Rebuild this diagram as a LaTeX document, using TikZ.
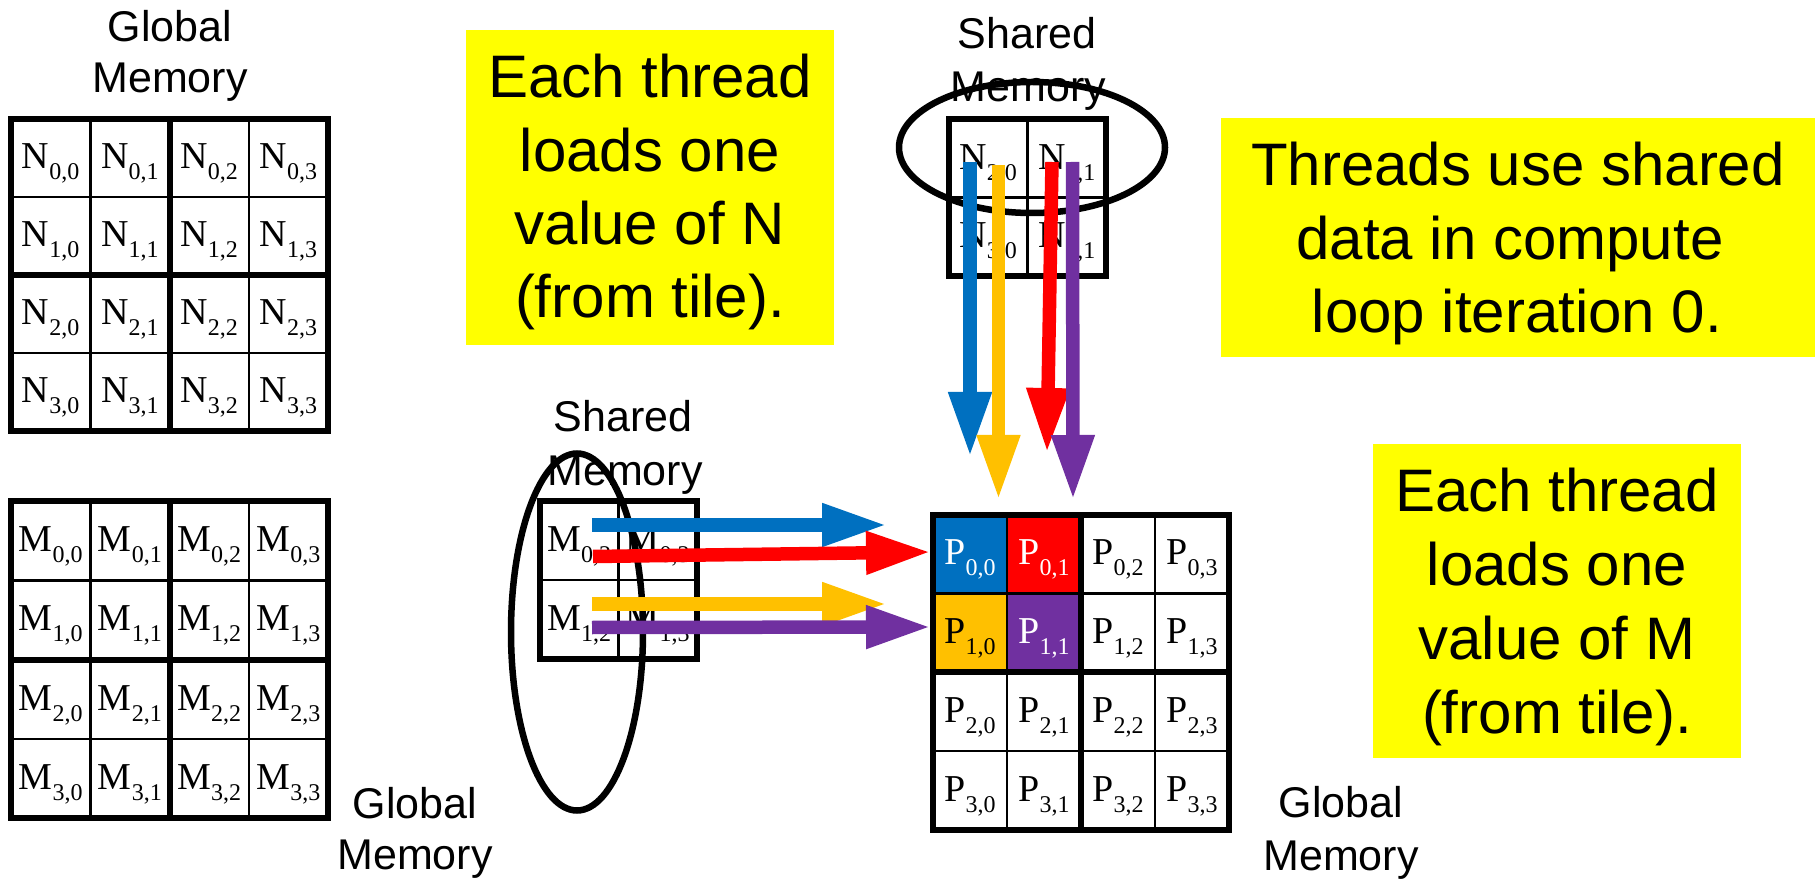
\documentclass[tikz,border=0pt]{standalone}
\usepackage{fontspec}
\setmainfont{Liberation Serif}
\newfontfamily\arialfont{Liberation Sans}
\usetikzlibrary{arrows.meta}

\definecolor{tblue}{HTML}{0070C0}
\definecolor{tred}{HTML}{FF0000}
\definecolor{tgold}{HTML}{FFC000}
\definecolor{tpurple}{HTML}{7030A0}
\definecolor{notefill}{HTML}{FFFF00}

\tikzset{
  thinrule/.style={line width=1.25pt},
  thickrule/.style={line width=3pt},
  celltext/.style={inner sep=0pt, text height=11pt, text depth=0pt, anchor=center},
  lbl/.style={font=\arialfont\fontsize{21.5}{26}\selectfont, anchor=base, inner sep=0pt},
  notetext/.style={font=\arialfont\fontsize{30}{36}\selectfont, anchor=base, inner sep=0pt},
  notebox/.style={fill=notefill, draw=none, inner sep=0pt, anchor=north west},
  ring/.style={draw=black, line width=3.25pt},
  flow/.style={line width=6.75pt, -{Triangle[width=20pt,length=32.5pt]}},
}

% matrix element: letter with a lowered "row,col" index
\newcommand{\cellval}[3]{{\fontsize{19}{19}\selectfont #1\raisebox{-5.5pt}{\fontsize{12}{12}\selectfont #2,#3}}}

\begin{document}
\begin{tikzpicture}[x=0.5pt, y=-0.5pt]
\useasboundingbox (0,0) rectangle (1817,882);

% ---------- yellow notes ----------
\node[notebox, minimum width=184pt, minimum height=157.5pt] (noteN) at (466,30) {};
\foreach \t [count=\i] in {Each thread, loads one, value of N, (from tile).}
  \node[notetext] (noteN-\i) at (650, {98+73.33*(\i-1)}) {\t};

\node[notebox, minimum width=297pt, minimum height=119.5pt] (noteP) at (1221,118) {};
\node[notetext] (noteP-1) at (1518,186) {Threads use shared};
\node[notetext] (noteP-2) at (1510,259.5) {data in compute};
\node[notetext] (noteP-3) at (1517,333) {loop iteration 0.};

\node[notebox, minimum width=184pt, minimum height=157pt] (noteM) at (1373,444) {};
\foreach \t [count=\i] in {Each thread, loads one, value of M, (from tile).}
  \node[notetext] (noteM-\i) at (1557, {511+74*(\i-1)}) {\t};

% ---------- global N ----------
\node[lbl] (gN-1) at (170,42) {Global};
\node[lbl] (gN-2) at (170,93) {Memory};
\foreach \r in {0,...,3}
  \foreach \c in {0,...,3}
    \node[celltext] (n-\r-\c) at ({11+79.25*(\c+0.5)}, {119+78*(\r+0.5)}) {\cellval{N}{\r}{\c}};
\foreach \i in {1,3} {
  \draw[thinrule] ({11+79.25*\i},119) -- ({11+79.25*\i},431);
  \draw[thinrule] (11,{119+78*\i}) -- (328,{119+78*\i});
}
\draw[thickrule] (11,119) rectangle (328,431);
\draw[thickrule] (169.5,119) -- (169.5,431) (11,275) -- (328,275);

% ---------- global M ----------
\foreach \r in {0,...,3}
  \foreach \c in {0,...,3}
    \node[celltext] (m-\r-\c) at ({11+79.25*(\c+0.5)}, {501+79.25*(\r+0.5)}) {\cellval{M}{\r}{\c}};
\foreach \i in {1,3} {
  \draw[thinrule] ({11+79.25*\i},501) -- ({11+79.25*\i},818);
  \draw[thinrule] (11,{501+79.25*\i}) -- (328,{501+79.25*\i});
}
\draw[thickrule] (11,501) rectangle (328,818);
\draw[thickrule] (169.5,501) -- (169.5,818) (11,659.5) -- (328,659.5);
\node[lbl] (gM-1) at (415,818) {Global};
\node[lbl] (gM-2) at (415,869) {Memory};

% ---------- global P ----------
\fill[tblue]   (933,514.5) rectangle (1007,593.4);
\fill[tred]    (1007,514.5) rectangle (1081,593.4);
\fill[tgold]   (933,593.4) rectangle (1007,672.3);
\fill[tpurple] (1007,593.4) rectangle (1081,672.3);
\foreach \r/\c/\col in {0/0/white,0/1/white,0/2/black,0/3/black,
                        1/0/black,1/1/white,1/2/black,1/3/black,
                        2/0/black,2/1/black,2/2/black,2/3/black,
                        3/0/black,3/1/black,3/2/black,3/3/black}
  \node[celltext, text=\col] (p-\r-\c) at ({933+74*(\c+0.5)}, {514.5+78.875*(\r+0.5)}) {\cellval{P}{\r}{\c}};
\foreach \i in {1,3} {
  \draw[thinrule] ({933+74*\i},514.5) -- ({933+74*\i},830);
  \draw[thinrule] (933,{514.5+78.875*\i}) -- (1229,{514.5+78.875*\i});
}
\draw[thickrule] (933,514.5) rectangle (1229,830);
\draw[thickrule] (1081,514.5) -- (1081,830) (933,672.25) -- (1229,672.25);
\node[lbl] (gP-1) at (1341,817) {Global};
\node[lbl] (gP-2) at (1341,870) {Memory};

% ---------- shared M tile ----------
\node[lbl] (sM-1) at (623,432) {Shared};
\node[lbl] (sM-2) at (625,486) {Memory};
\foreach \r/\rr in {0/0,1/1}
  \foreach \c/\cc in {0/2,1/3}
    \node[celltext] (sm-\r-\c) at ({540+78.5*(\c+0.5)}, {501+79*(\r+0.5)}) {\cellval{M}{\rr}{\cc}};
\draw[thinrule] (618.5,501) -- (618.5,659) (540,580) -- (697,580);
\draw[thickrule] (540,501) rectangle (697,659);
\draw[ring] (577,632) ellipse [x radius=66, y radius=178.5];

% ---------- shared N tile ----------
\node[lbl] (sN-1) at (1027,49) {Shared};
\node[lbl] (sN-2) at (1028.5,102) {Memory};
\foreach \r/\rr in {0/2,1/3}
  \foreach \c/\cc in {0/0,1/1}
    \node[celltext] (sn-\r-\c) at ({949+78.5*(\c+0.5)}, {119+78.5*(\r+0.5)}) {\cellval{N}{\rr}{\cc}};
\draw[thinrule] (1027.5,119) -- (1027.5,276) (949,197.5) -- (1106,197.5);
\draw[thickrule] (949,119) rectangle (1106,276);
\draw[ring] (1032,147.5) ellipse [x radius=133, y radius=65.5];

% ---------- data movement ----------
\coordinate (hB0) at (592,525);    \coordinate (hB1) at (887,525);
\coordinate (hR0) at (593,556.5);  \coordinate (hR1) at (931,552);
\coordinate (hG0) at (592,604);    \coordinate (hG1) at (887,604);
\coordinate (hP0) at (592,627.5);  \coordinate (hP1) at (931,627);
\coordinate (vB0) at (970,162);    \coordinate (vB1) at (970,457);
\coordinate (vG0) at (998.5,165);  \coordinate (vG1) at (998.5,500);
\coordinate (vR0) at (1052,162);   \coordinate (vR1) at (1047,453);
\coordinate (vP0) at (1072.5,162); \coordinate (vP1) at (1073,500);

\draw[flow, tblue]   (hB0) -- (hB1);
\draw[flow, tred]    (hR0) -- (hR1);
\draw[flow, tgold]   (hG0) -- (hG1);
\draw[flow, tpurple] (hP0) -- (hP1);

\draw[flow, tblue]   (vB0) -- (vB1);
\draw[flow, tgold]   (vG0) -- (vG1);
\draw[flow, tred]    (vR0) -- (vR1);
\draw[flow, tpurple] (vP0) -- (vP1);
\end{tikzpicture}
\end{document}
